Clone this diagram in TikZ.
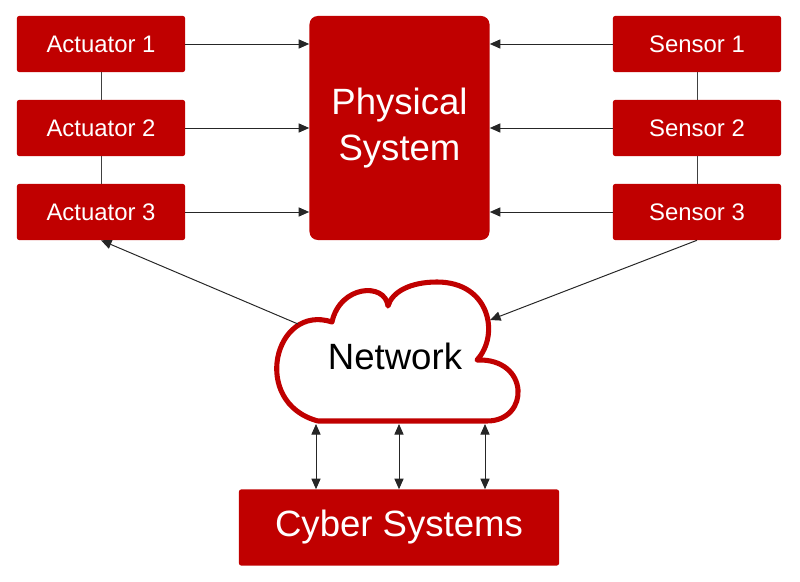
\documentclass[tikz,border=0pt]{standalone}
\usepackage{fontspec}
\setmainfont{Liberation Sans}
\usepackage{xcolor}
\usepackage{tikz}
\usetikzlibrary{positioning}
\usetikzlibrary{arrows,arrows.meta,shapes}
\usetikzlibrary{calc}
\definecolor{boxred}{RGB}{192,0,0}
\tikzstyle{unit}=[rectangle,fill=boxred,text=white,rounded corners=1.5pt,minimum width=4.2cm,minimum height=1.4cm,inner sep=0pt,font=\fontsize{17}{20}\selectfont]
\tikzstyle{bigunit}=[rectangle,fill=boxred,text=white,rounded corners=6pt,minimum width=4.5cm,minimum height=5.6cm,align=center,inner sep=0pt,font=\fontsize{26}{33}\selectfont]
\tikzset{cyberbox/.style={rectangle,fill=boxred,text=white,rounded corners=1.5pt,minimum width=8cm,minimum height=1.9cm,inner sep=0pt,font=\fontsize{26}{30}\selectfont}}
\tikzset{feed/.style={-{Triangle[length=7.5pt,width=6.5pt]},line width=0.7pt,black!85}}
\tikzset{both/.style={{Triangle[length=7.5pt,width=6.5pt]}-{Triangle[length=7.5pt,width=6.5pt]},line width=0.7pt,black!85}}
\tikzset{link/.style={line width=0.7pt,black!75}}

\begin{document}
\begin{tikzpicture}[x=0.025cm, y=-0.025cm]
    \useasboundingbox (0,0) rectangle (800,582);

    \foreach \y/\i in {44/1, 128/2, 212/3} {
        \node[unit] (act\i) at (101,\y) {Actuator \i};
        \node[unit] (sen\i) at (697,\y) {Sensor \i};
    }
    \node[bigunit] (phys) at (399.5,128) {Physical\\System};
    \node[cyberbox] (cyber) at (399,527.5) {Cyber Systems};

    % cloud
    \draw[boxred, line width=3.6pt, fill=white, line join=round]
        (318,421) -- (487,421)
        .. controls (530,421) and (530,358) .. (477,360)
        .. controls (500,335) and (490,282) .. (437,282)
        .. controls (410,282) and (392,292) .. (388,306)
        .. controls (385,282) and (340,285) .. (332,322)
        .. controls (274,303) and (250,403) .. (318,421) -- cycle;
    \node[font=\fontsize{26}{30}\selectfont] (net) at (395,356) {Network};

    \coordinate (netL) at (298,324);
    \coordinate (netR) at (490,320);
    \foreach \x/\i in {316/1, 399/2, 485/3}
        \coordinate (nb\i) at (\x,424);

    \foreach \i in {1,2,3} {
        \draw[feed] (act\i) -- (act\i -| phys.west);
        \draw[feed] (sen\i) -- (sen\i -| phys.east);
        \draw[both] (nb\i) -- (nb\i |- cyber.north);
    }

    \draw[link] (act1) -- (act2);
    \draw[link] (act2) -- (act3);
    \draw[link] (sen1) -- (sen2);
    \draw[link] (sen2) -- (sen3);

    \draw[feed] (netL) -- (act3.south);
    \draw[feed] (sen3.south) -- (netR);

\end{tikzpicture}
\end{document}
